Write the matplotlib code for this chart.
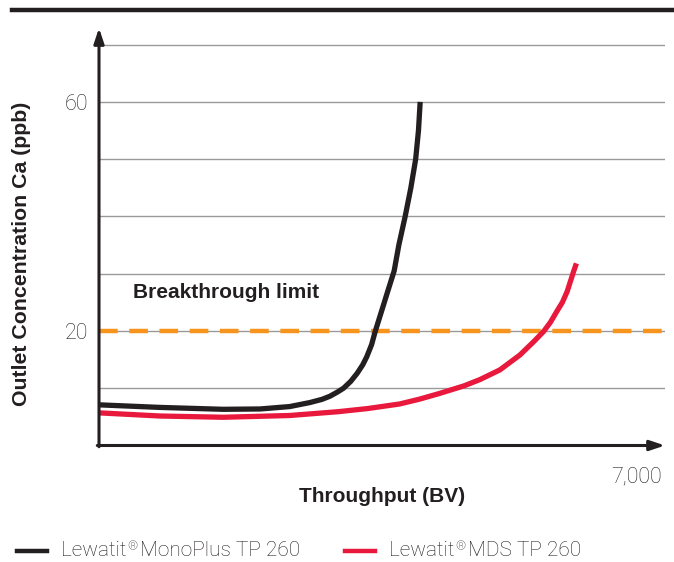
import matplotlib
matplotlib.use("Agg")
import matplotlib.pyplot as plt
from matplotlib.lines import Line2D

# Data
mono_x = [0, 760, 1550, 2010, 2380, 2630, 2780, 2880, 2970, 3050, 3140, 3220, 3290, 3340, 3400, 3445,
          3530, 3610, 3682, 3740, 3819, 3890, 3950, 3985, 4006]
mono_y = [7.1, 6.65, 6.32, 6.38, 6.8, 7.5, 8.05, 8.6, 9.3, 10.0, 11.2, 12.6, 14.1, 15.5, 17.6, 19.9,
          23.7, 27.3, 30.5, 35.0, 40.0, 45.0, 50.0, 55.0, 60.0]

mds_x = [0, 760, 1550, 2380, 2980, 3350, 3750, 4000, 4250, 4550, 4750, 5000, 5250, 5420, 5545, 5630,
         5710, 5780, 5840, 5920, 5955]
mds_y = [5.7, 5.15, 4.93, 5.24, 5.9, 6.45, 7.25, 8.1, 9.1, 10.4, 11.5, 13.2, 15.8, 18.1, 19.9, 21.5,
         23.4, 25.0, 26.9, 30.4, 31.8]

breakthrough = 20
grid_values = [10, 20, 30, 40, 50, 60, 70]
ytick_values = [20, 60]
ytick_labels = ["20", "60"]
x_end_label = "7,000"
series_brand = "Lewatit"
series_products = ["MonoPlus TP 260", "MDS TP 260"]
colors = ["#231F20", "#E8193C"]

light = dict(family=["Roboto", "DejaVu Sans"], fontweight="light")
bold = dict(family=["Liberation Sans", "DejaVu Sans"], fontweight="bold")
ink = "#231F20"

fig = plt.figure(figsize=(6.74, 5.62), dpi=100)
ax = fig.add_axes([99 / 674, 1 - 445.5 / 562, 566 / 674, (445.5 - 28) / 562])
ax.set_xlim(0, 7060)
ax.set_ylim(0, 72.9)
for s in ax.spines.values():
    s.set_visible(False)
ax.set_xticks([])
ax.set_yticks([])

# gridlines
for g in grid_values:
    ax.axhline(g, color="#9a9a9a", lw=1.0, zorder=1)

# breakthrough limit
ax.axhline(breakthrough, color="#F7941D", lw=3.2, dashes=(4.2, 2.6), zorder=2)
ax.text(0.06, 0.367, "Breakthrough limit", transform=ax.transAxes, fontsize=15,
        color=ink, va="center", ha="left", **bold)

# curves
ax.plot(mds_x, mds_y, color=colors[1], lw=3.8, solid_capstyle="butt",
        solid_joinstyle="round", zorder=4)
ax.plot(mono_x, mono_y, color=colors[0], lw=3.8, solid_capstyle="butt",
        solid_joinstyle="round", zorder=5)

# axes arrows
ax.annotate("", xy=(1.0, 0), xytext=(-0.003, 0), xycoords="axes fraction",
            arrowprops=dict(arrowstyle="-|>,head_length=0.9,head_width=0.3", color=ink, lw=2.2,
                            shrinkA=0, shrinkB=0), annotation_clip=False, zorder=6)
ax.annotate("", xy=(0, 1.0), xytext=(0, -0.003), xycoords="axes fraction",
            arrowprops=dict(arrowstyle="-|>,head_length=0.9,head_width=0.3", color=ink, lw=2.2,
                            shrinkA=0, shrinkB=0), annotation_clip=False, zorder=6)

# tick labels
for v, lab in zip(ytick_values, ytick_labels):
    ax.text(-0.019, v, lab, transform=ax.get_yaxis_transform(), ha="right", va="center_baseline",
            fontsize=15.5, color=ink, **light)
ax.text((662 - 99) / 566, -0.075, x_end_label, transform=ax.transAxes, ha="right", va="center",
        fontsize=15.5, color=ink, **light)

# axis labels
fig.text(382 / 674, 1 - 497 / 562, "Throughput (BV)", ha="center", va="center",
         fontsize=15, color=ink, **bold)
fig.text(22 / 674, 1 - 254 / 562, "Outlet Concentration Ca (ppb)", ha="center", va="center",
         rotation=90, fontsize=15.3, color=ink, **bold)

# top rule
fig.add_artist(Line2D([12 / 674, 1.0], [1 - 9.5 / 562] * 2, color=ink, lw=3.2,
                      transform=fig.transFigure))

# legend
renderer = fig.canvas.get_renderer()
ly = 1 - 551 / 562
starts = [(17, 61), (345, 389)]
for (lx, tx), prod, c in zip(starts, series_products, colors):
    fig.add_artist(Line2D([lx / 674, (lx + 30) / 674], [ly, ly], color=c, lw=3.2,
                          transform=fig.transFigure))
    t1 = fig.text(tx / 674, ly, series_brand, ha="left", va="center", fontsize=15, color=ink, **light)
    w1 = t1.get_window_extent(renderer).width
    t2 = fig.text((tx + w1 + 0.5) / 674, ly + 4 / 562, "\u00ae", ha="left", va="center",
                  fontsize=9, color=ink, **light)
    w2 = t2.get_window_extent(renderer).width
    fig.text((tx + w1 + w2 + 3) / 674, ly, prod, ha="left", va="center", fontsize=15,
             color=ink, **light)

fig.savefig("out.png", dpi=100)
